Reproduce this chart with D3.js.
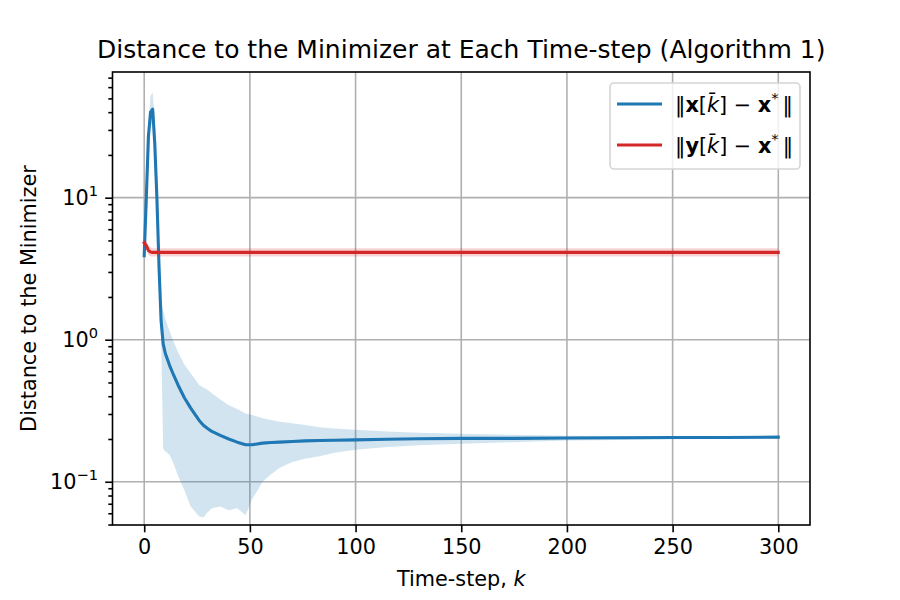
<!DOCTYPE html>
<html>
<head>
<meta charset="utf-8">
<script src="https://cdn.jsdelivr.net/npm/d3@7"></script>
<style>
  body { margin: 0; background: #fff; }
  text { font-family: "DejaVu Sans", sans-serif; fill: #000; }
</style>
</head>
<body>
<div id="vis-container"></div>
<script>
const steps = [0, 1, 2, 3, 4, 5, 6, 7, 8, 9, 10, 12, 14, 16, 19, 22, 26, 28, 30, 32, 36, 40, 44, 48, 51, 56, 60, 64, 70, 76, 83, 90, 100, 115, 130, 150, 175, 200, 225, 250, 275, 300];
const xMean = [3.9, 10, 27, 40, 42, 24, 10, 3.3, 1.35, 0.93, 0.8, 0.66, 0.56, 0.48, 0.39, 0.33, 0.27, 0.25, 0.237, 0.226, 0.212, 0.2, 0.19, 0.182, 0.182, 0.187, 0.189, 0.19, 0.192, 0.194, 0.195, 0.196, 0.197, 0.199, 0.201, 0.202, 0.202, 0.203, 0.204, 0.205, 0.205, 0.206];
const xUpper = [4.2, 12, 33, 52, 55, 35, 14, 5, 1.9, 1.6, 1.4, 1.15, 0.96, 0.82, 0.67, 0.58, 0.48, 0.46, 0.445, 0.42, 0.38, 0.345, 0.325, 0.302, 0.295, 0.28, 0.272, 0.265, 0.258, 0.251, 0.242, 0.237, 0.232, 0.226, 0.221, 0.218, 0.214, 0.211, 0.21, 0.209, 0.208, 0.208];
const xLower = [3.6, 8, 22, 32, 33, 17, 7, 2.2, 1.0, 0.17, 0.163, 0.155, 0.133, 0.11, 0.087, 0.067, 0.057, 0.056, 0.061, 0.065, 0.067, 0.063, 0.065, 0.058, 0.075, 0.1, 0.113, 0.125, 0.138, 0.145, 0.151, 0.16, 0.168, 0.176, 0.181, 0.185, 0.19, 0.195, 0.197, 0.199, 0.2, 0.201];

const ySteps = [0, 1, 2, 3, 4, 6, 300];
const yMean = [4.8, 4.6, 4.25, 4.15, 4.12, 4.12, 4.12];
const yUpper = [5.1, 4.95, 4.6, 4.45, 4.4, 4.4, 4.4];
const yLower = [4.5, 4.25, 3.95, 3.85, 3.85, 3.85, 3.85];

const xTicks = [0, 50, 100, 150, 200, 250, 300];
const yTicks = [0.1, 1, 10];
const yTickExp = ["\u22121", "0", "1"];

const blue = "#1f77b4", red = "#d62728";
const mLeft = 112.5, mRight = 810, mTop = 72, mBottom = 525;

const svg = d3.select("#vis-container")
    .append("svg")
    .attr("width", 900)
    .attr("height", 600);

const x = d3.scaleLinear().domain([-15, 315]).range([mLeft, mRight]);
const y = d3.scaleLog().domain([0.0496, 76.7]).range([mBottom, mTop]);

svg.append("defs").append("clipPath").attr("id", "clip")
    .append("rect")
    .attr("x", mLeft).attr("y", mTop)
    .attr("width", mRight - mLeft).attr("height", mBottom - mTop);

// grid
const grid = svg.append("g").attr("stroke", "#b0b0b0").attr("stroke-width", 1.6);
grid.selectAll(".gx").data(xTicks).enter().append("line")
    .attr("x1", d => x(d)).attr("x2", d => x(d))
    .attr("y1", mTop).attr("y2", mBottom);
grid.selectAll(".gy").data(yTicks).enter().append("line")
    .attr("x1", mLeft).attr("x2", mRight)
    .attr("y1", d => y(d)).attr("y2", d => y(d));

const plot = svg.append("g").attr("clip-path", "url(#clip)");

let band = (ks, lo, hi) => d3.area()
    .x((d, i) => x(ks[i]))
    .y0((d, i) => y(lo[i]))
    .y1((d, i) => y(hi[i]))(ks);
let line = (ks, vals) => d3.line()
    .x((d, i) => x(ks[i]))
    .y((d, i) => y(vals[i]))(ks);

plot.append("path").attr("d", band(steps, xLower, xUpper))
    .attr("fill", blue).attr("fill-opacity", 0.2);
plot.append("path").attr("d", line(steps, xMean))
    .attr("fill", "none").attr("stroke", blue).attr("stroke-width", 3.1)
    .attr("stroke-linejoin", "round").attr("stroke-linecap", "square");

plot.append("path").attr("d", band(ySteps, yLower, yUpper))
    .attr("fill", red).attr("fill-opacity", 0.2);
plot.append("path").attr("d", line(ySteps, yMean))
    .attr("fill", "none").attr("stroke", red).attr("stroke-width", 3.1)
    .attr("stroke-linejoin", "round").attr("stroke-linecap", "square");

// axes
const xAxis = svg.append("g")
    .attr("transform", `translate(0,${mBottom})`)
    .call(d3.axisBottom(x).tickValues(xTicks).tickSize(7.3).tickPadding(7));
const minor = [];
[0.01, 0.1, 1, 10].forEach(dec => { for (let m = 2; m <= 9; m++) minor.push(dec * m); });
const yMinor = minor.filter(v => v >= 0.0496 && v <= 76.7);
svg.append("g")
    .attr("transform", `translate(${mLeft},0)`)
    .call(d3.axisLeft(y).tickValues(yMinor).tickSize(4.2).tickFormat(""));
svg.append("g")
    .attr("transform", `translate(${mLeft},0)`)
    .call(d3.axisLeft(y).tickValues(yTicks).tickSize(7.3).tickFormat(""));

svg.selectAll(".domain").remove();
svg.selectAll(".tick line").attr("stroke", "#000").attr("stroke-width", 1.6);
xAxis.selectAll(".tick text")
    .style("font-family", "DejaVu Sans").style("font-size", "20.8px")
    .attr("fill", "#000").attr("dy", "0.71em");

yTicks.forEach((t, i) => {
    let tx = svg.append("text")
        .attr("x", 98).attr("y", y(t) + 7.5)
        .attr("text-anchor", "end")
        .style("font-size", "20.8px");
    tx.append("tspan").text("10");
    tx.append("tspan").attr("dy", -9).style("font-size", "14.6px").text(yTickExp[i]);
});

// spines
svg.append("rect")
    .attr("x", mLeft).attr("y", mTop)
    .attr("width", mRight - mLeft).attr("height", mBottom - mTop)
    .attr("fill", "none").attr("stroke", "#000").attr("stroke-width", 1.6);

// labels
svg.append("text")
    .attr("x", (mLeft + mRight) / 2).attr("y", 58)
    .attr("text-anchor", "middle")
    .style("font-size", "25px")
    .text("Distance to the Minimizer at Each Time-step (Algorithm 1)");

let xl = svg.append("text")
    .attr("x", (mLeft + mRight) / 2).attr("y", 586)
    .attr("text-anchor", "middle")
    .style("font-size", "20.8px");
xl.append("tspan").text("Time-step, ");
xl.append("tspan").style("font-style", "italic").text("k");

svg.append("text")
    .attr("transform", `translate(36,${(mTop + mBottom) / 2}) rotate(-90)`)
    .attr("text-anchor", "middle")
    .style("font-size", "20.8px")
    .text("Distance to the Minimizer");

// legend
const legendItems = [{v: "x", color: blue}, {v: "y", color: red}];
const lg = svg.append("g");
lg.append("rect")
    .attr("x", 610).attr("y", 83)
    .attr("width", 190).attr("height", 86)
    .attr("rx", 4)
    .attr("fill", "#fff").attr("fill-opacity", 0.8)
    .attr("stroke", "#d5d5d5").attr("stroke-width", 1.6);

const rows = lg.selectAll(".row").data(legendItems).enter().append("g")
    .attr("transform", (d, i) => `translate(0,${104 + i * 41})`);
rows.append("line")
    .attr("x1", 617).attr("x2", 662)
    .attr("stroke", d => d.color).attr("stroke-width", 3.1);
rows.append("text")
    .attr("x", 675).attr("y", 8)
    .style("font-size", "20.8px")
    .each(function(d){
        let t = d3.select(this);
        t.append("tspan").text("\u2016");
        t.append("tspan").style("font-weight", "bold").text(d.v);
        t.append("tspan").text("[");
        t.append("tspan").style("font-style", "italic").text("k\u0304");
        t.append("tspan").text("] \u2212 ");
        t.append("tspan").style("font-weight", "bold").text("x");
        t.append("tspan").attr("dy", -9).style("font-size", "14.6px").text("*");
        t.append("tspan").attr("dy", 9).attr("dx", 4).text("\u2016");
    });
</script>
</body>
</html>
